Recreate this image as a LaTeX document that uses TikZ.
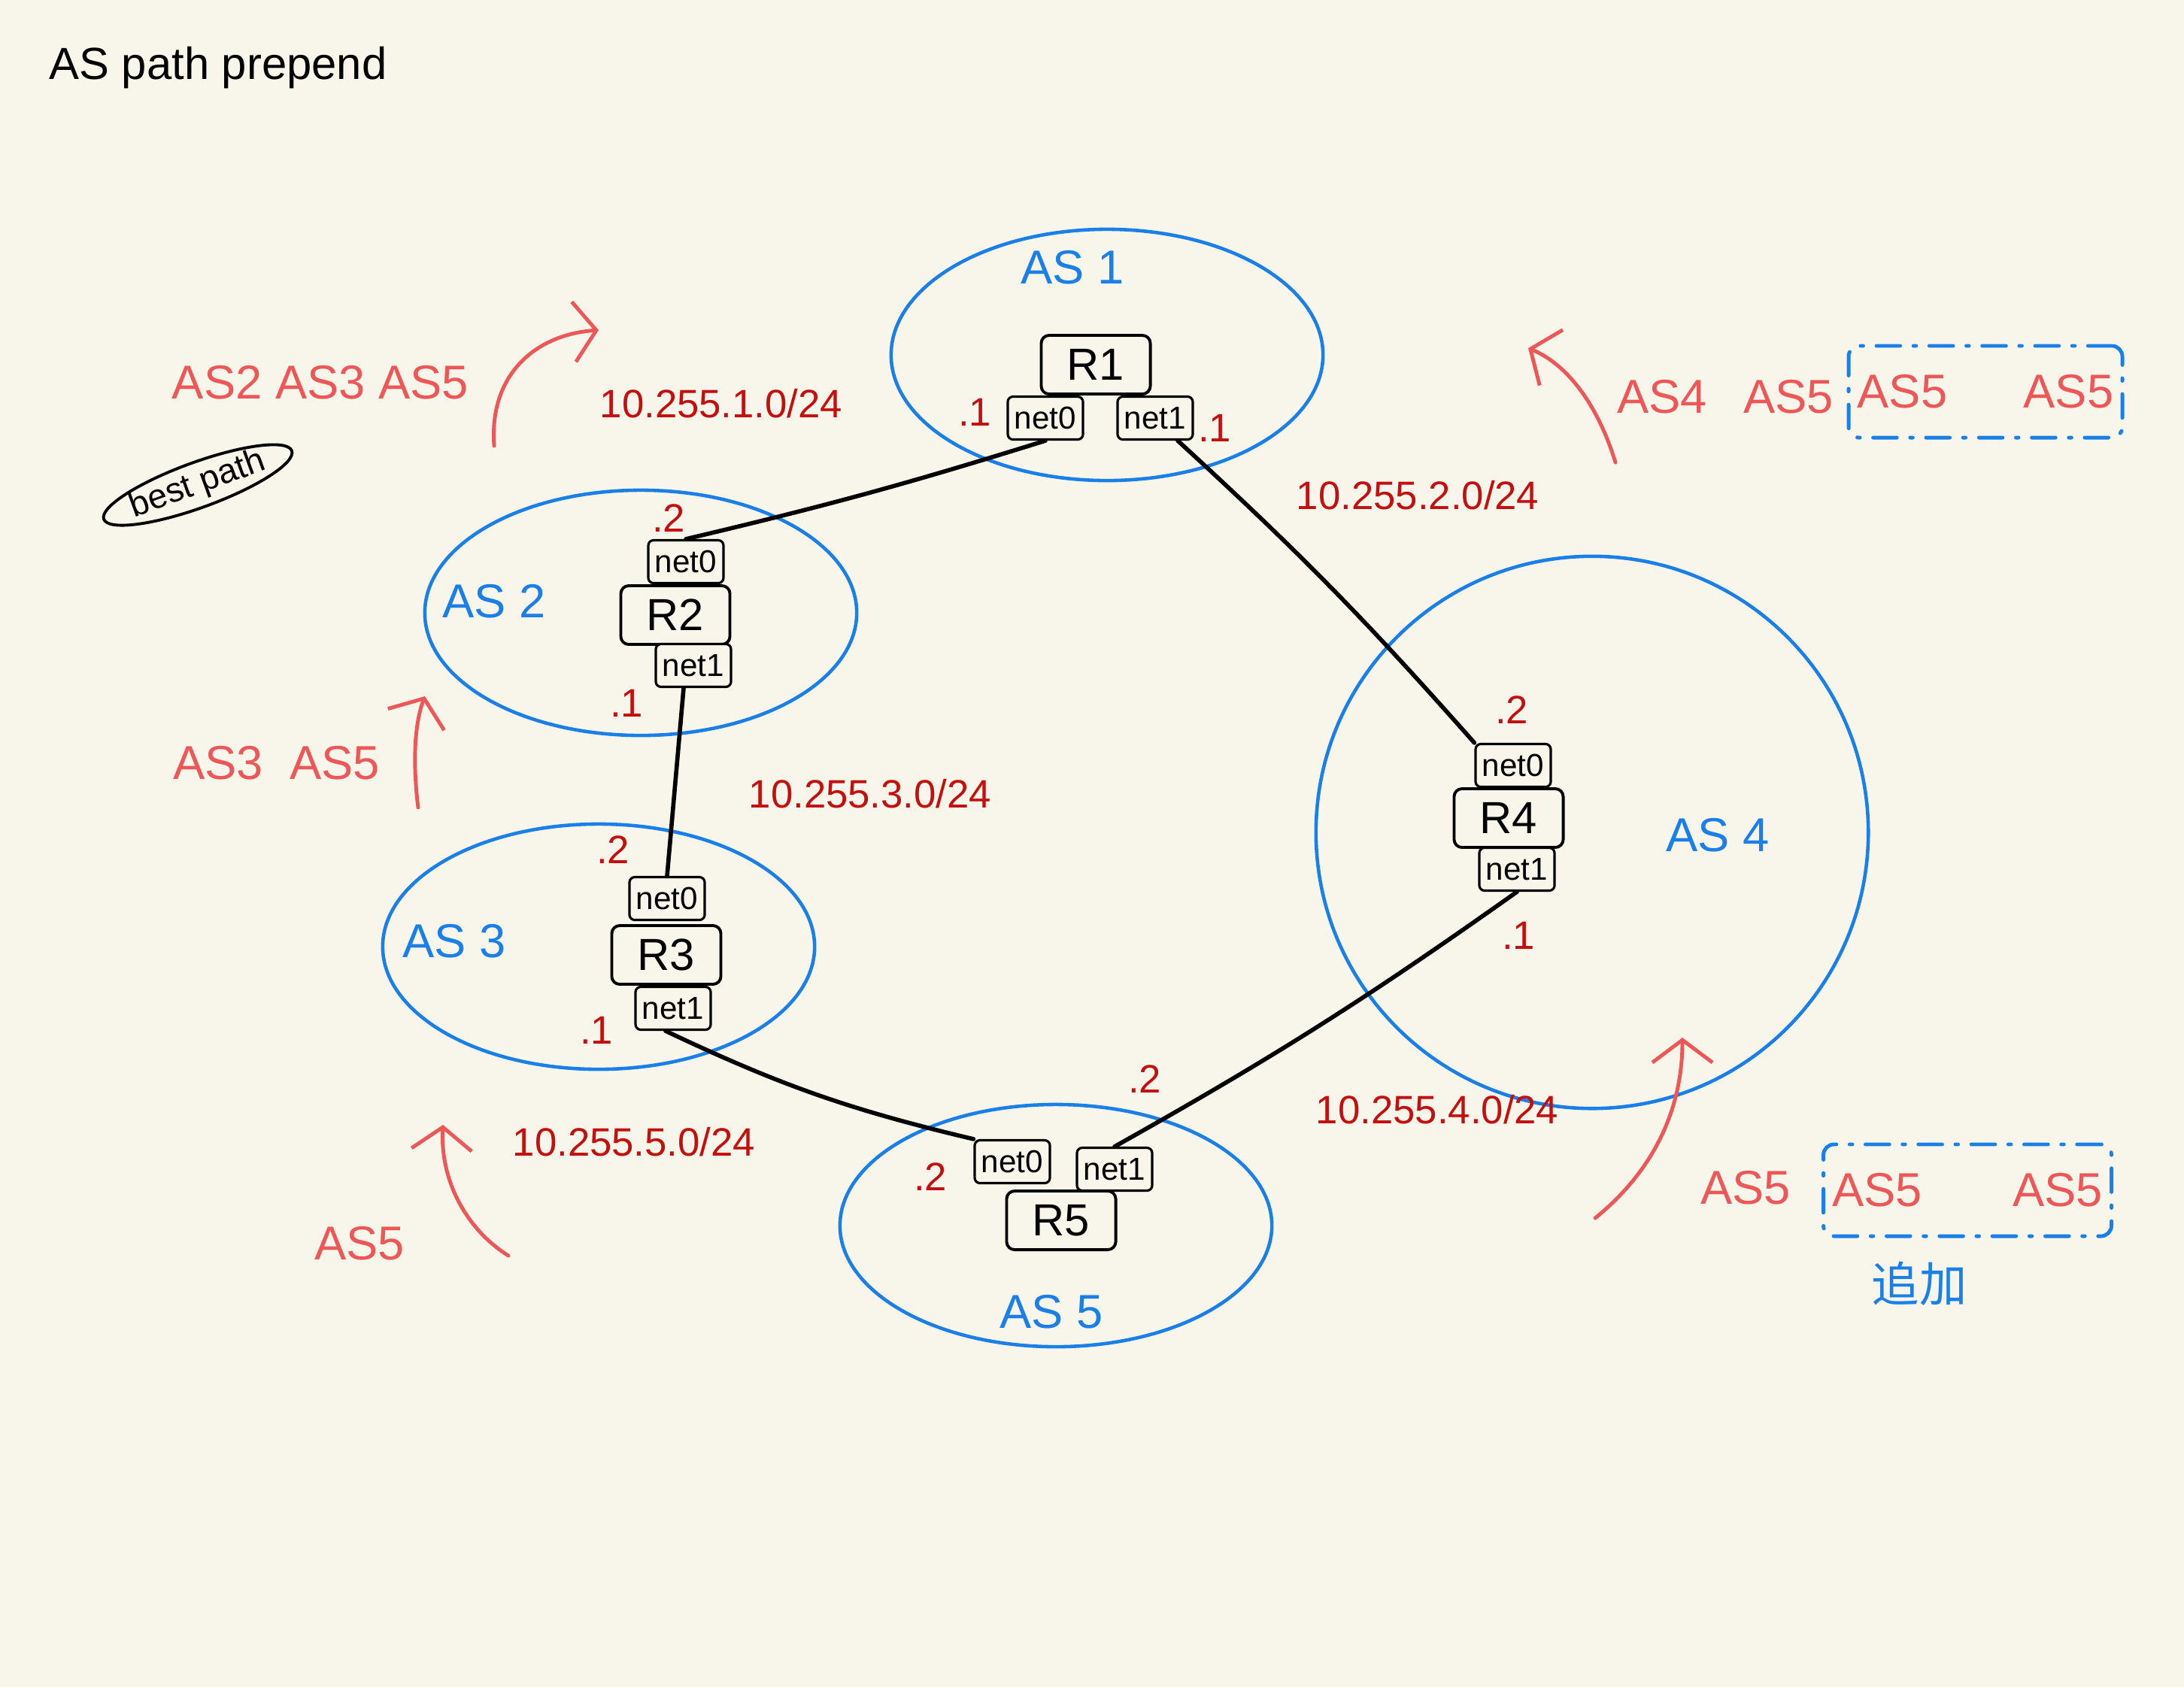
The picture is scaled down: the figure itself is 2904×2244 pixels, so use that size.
\documentclass[tikz,border=0pt]{standalone}
\usepackage{fontspec}
\setmainfont{Liberation Sans}
\newfontfamily\cjk{Noto Sans CJK SC}
\usetikzlibrary{shapes.geometric,arrows.meta}

\definecolor{paper}{HTML}{F8F6EA}
\definecolor{asblue}{HTML}{1A7FE6}
\definecolor{pathred}{HTML}{EE5757}
\definecolor{netred}{HTML}{C40F0F}

\begin{document}
\begin{tikzpicture}[x=0.01cm, y=-0.01cm
        , every path/.style={ line cap=round, line join=round }
        , asring/.style={ draw=asblue, ellipse, line width=1.3pt, inner sep=0pt }
        , aslabel/.style={ text=asblue, font=\fontsize{18}{20}\selectfont }
        , router/.style={ draw, rounded corners=3pt, line width=1.1pt, fill=paper
            , minimum width=1.45cm, minimum height=0.78cm, font=\fontsize{17}{20}\selectfont }
        , iface/.style={ draw, rounded corners=2pt, line width=0.9pt, fill=paper, inner sep=1pt
            , minimum width=1.0cm, minimum height=0.57cm, font=\fontsize{12}{14}\selectfont }
        , host/.style={ text=netred, font=\fontsize{15}{17}\selectfont }
        , addr/.style={ text=netred, font=\fontsize{15}{17}\selectfont }
        , link/.style={ draw, line width=1.6pt }
        , aspath/.style={ text=pathred, font=\fontsize{18}{22}\selectfont }
        , flow/.style={ draw=pathred, line width=1.4pt, -{Straight Barb[length=3mm, width=8mm]} }
        , prepended/.style={ draw=asblue, line width=1.4pt, rounded corners=4pt
            , dash pattern=on 9pt off 5pt on 1pt off 5pt
            , text=pathred, font=\fontsize{18}{22}\selectfont, minimum height=1.22cm }
        ]

        \fill[paper] (0,0) rectangle (2904,2244);

        \node[font=\fontsize{17}{20}\selectfont] (title) at (290,90) {AS path prepend};

        % AS boundaries
        \node[asring, minimum width=5.74cm, minimum height=3.34cm] (as1) at (1472,472) {};
        \node[asring, minimum width=5.74cm, minimum height=3.26cm] (as2) at (852,815) {};
        \node[asring, minimum width=5.74cm, minimum height=3.26cm] (as3) at (796,1259) {};
        \node[asring, circle, minimum size=7.34cm] (as4) at (2117,1107) {};
        \node[asring, minimum width=5.74cm, minimum height=3.22cm] (as5) at (1404,1630) {};

        \node[aslabel] (as1lbl) at (1426,356) {AS 1};
        \node[aslabel] (as2lbl) at (657,800) {AS 2};
        \node[aslabel] (as3lbl) at (604,1252) {AS 3};
        \node[aslabel] (as4lbl) at (2284,1111) {AS 4};
        \node[aslabel] (as5lbl) at (1398,1745) {AS 5};

        % routers and their interfaces
        \foreach \r/\x/\y in {1/1457/485, 2/898/818, 3/886/1270, 4/2006/1088, 5/1411/1623}
            \node[router] (r\r) at (\x,\y) {R\r};

        \foreach \r/\ax/\ay/\bx/\by in {1/1390/556/1536/556, 2/912/747/922/885,
                3/887/1195/895/1341, 4/2012/1018/2017/1156, 5/1346/1545/1482/1555}
        {
            \node[iface] (r\r n0) at (\ax,\ay) {net0};
            \node[iface] (r\r n1) at (\bx,\by) {net1};
        }

        \node[host] (h1a) at (1296,548) {.1};
        \node[host] (h1b) at (1615,569) {.1};
        \node[host] (h2a) at (889,689) {.2};
        \node[host] (h2b) at (833,935) {.1};
        \node[host] (h3a) at (815,1130) {.2};
        \node[host] (h3b) at (793,1370) {.1};
        \node[host] (h4a) at (2010,944) {.2};
        \node[host] (h4b) at (2019,1244) {.1};
        \node[host] (h5a) at (1237,1565) {.2};
        \node[host] (h5b) at (1522,1435) {.2};

        % links
        \path[link] (r1n0.south) to[bend left=2] (r2n0.north);
        \path[link] ([xshift=0.3cm]r1n1.south) to[bend left=3] (r4n0.north west);
        \path[link] ([xshift=-0.13cm]r2n1.south) -- (r3n0.north);
        \path[link] ([xshift=-0.1cm]r3n1.south) to[bend right=6] (r5n0.north west);
        \path[link] (r4n1.south) to[bend left=3] (r5n1.north);

        \node[addr] (net1) at (959,537) {10.255.1.0/24};
        \node[addr] (net2) at (1885,659) {10.255.2.0/24};
        \node[addr] (net3) at (1157,1056) {10.255.3.0/24};
        \node[addr] (net4) at (1911,1476) {10.255.4.0/24};
        \node[addr] (net5) at (843,1519) {10.255.5.0/24};

        % AS paths as they arrive
        \node[aspath] (p1) at (426,509) {AS2 AS3 AS5};
        \node[draw, ellipse, rotate=20, line width=1.1pt, inner sep=0pt
            , font=\fontsize{13}{15}\selectfont] (best) at (263,645) {best path};
        \coordinate (p1from) at (657,593);
        \coordinate (p1to) at (796,439);
        \path[flow] (p1from) .. controls (650,500) and (710,445) .. (p1to);

        \node[aspath] (p2a) at (290,1015) {AS3};
        \node[aspath] (p2b) at (445,1015) {AS5};
        \coordinate (p2from) at (556,1074);
        \coordinate (p2to) at (565,926);
        \path[flow] (p2from) .. controls (548,1010) and (552,960) .. (p2to);

        \node[aspath] (p3) at (478,1654) {AS5};
        \coordinate (p3from) at (676,1670);
        \coordinate (p3to) at (589,1496);
        \path[flow] (p3from) .. controls (620,1635) and (585,1570) .. (p3to);

        \node[aspath] (p4a) at (2210,528) {AS4};
        \node[aspath] (p4b) at (2378,528) {AS5};
        \node[prepended, minimum width=3.37cm] (pre4) at (2640,521) {AS5\hspace{1.6em}AS5};
        \coordinate (p4from) at (2148,615);
        \coordinate (p4to) at (2032,463);
        \path[flow] (p4from) .. controls (2125,540) and (2085,485) .. (p4to);

        \node[aspath] (p5) at (2321,1580) {AS5};
        \node[prepended, minimum width=3.5cm] (pre5) at (2616,1583) {AS5\hspace{1.9em}AS5};
        \coordinate (p5from) at (2121,1620);
        \coordinate (p5to) at (2237,1380);
        \path[flow] (p5from) .. controls (2195,1560) and (2237,1480) .. (p5to);

        \node[text=asblue, font=\cjk\fontsize{18}{20}\selectfont] (added) at (2552,1707) {追加};

    \end{tikzpicture}
\end{document}
